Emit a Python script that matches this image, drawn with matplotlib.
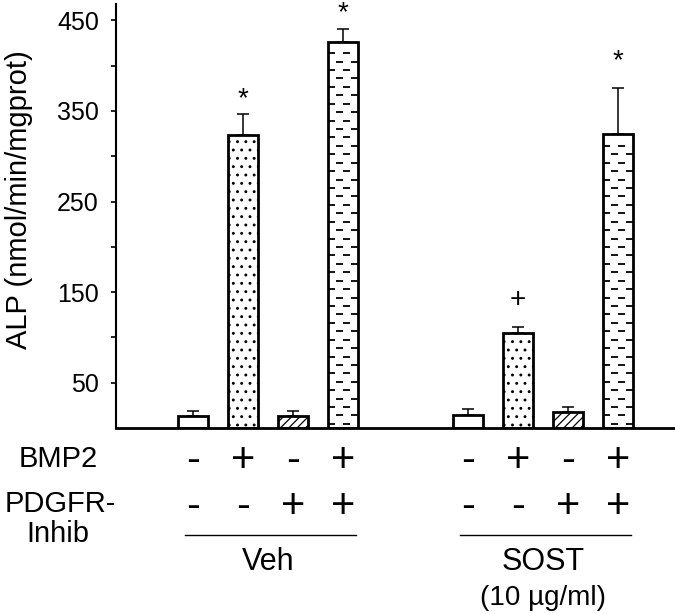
import numpy as np
import matplotlib
matplotlib.use("Agg")
import matplotlib.pyplot as plt
from matplotlib.transforms import blended_transform_factory

plt.rcParams['font.family'] = ['Liberation Sans', 'DejaVu Sans']
plt.rcParams['hatch.linewidth'] = 0.9

# --- data ---
groups = ['Veh', 'SOST']
group_sub = ['', '(10 µg/ml)']
bmp2 = ['-', '+', '-', '+']
pdgfr = ['-', '-', '+', '+']
alp_mean = [13, 323, 13, 426, 14.5, 105, 17.5, 324]
alp_err = [6, 24, 6, 14, 6.5, 7, 5.5, 51]
marks = ['', '*', '', '*', '', '+', '', '*']
mark_y = [0, 363, 0, 458, 0, 141, 0, 405]
patterns = ['plain', 'dots', 'diag', 'dash'] * 2

# --- layout ---
n_per = len(bmp2)
group_step = 5.5
x = np.concatenate([np.arange(n_per) + g * group_step for g in range(len(groups))])
width = 0.6

fig = plt.figure(figsize=(6.75, 6.14), dpi=100)
ax = fig.add_axes([116 / 675, (614 - 428) / 614, (675 - 116) / 675, (428 - 4) / 614])

hatch_map = {'plain': '', 'dots': '..', 'diag': '////', 'dash': ''}
bars = ax.bar(x, alp_mean, width=width, color='white', edgecolor='black',
              linewidth=2.0, zorder=2)
for b, p in zip(bars, patterns):
    b.set_hatch(hatch_map[p])

# brick-like dash fill for the combined treatment bars
for b, p in zip(bars, patterns):
    if p != 'dash':
        continue
    L = b.get_x()
    w = b.get_width()
    top = b.get_height()
    rows = np.arange(4.5, top - 4, 9.3)
    for r, yy in enumerate(rows[::-1]):
        off = (r % 2) * 0.27 * w
        for k in range(3):
            s = L + off + k * 0.5 * w
            e = min(s + 0.23 * w, L + w)
            if s < L + w - 0.02:
                ax.plot([s, e], [yy, yy], color='black', lw=1.3,
                        solid_capstyle='butt', zorder=3)

ax.errorbar(x, alp_mean, yerr=[np.zeros(len(alp_err)), alp_err], fmt='none',
            ecolor='black', elinewidth=1.1, capsize=4, capthick=1.1, zorder=4)

for xi, m, my in zip(x, marks, mark_y):
    if m:
        ax.text(xi, my, m, ha='center', va='center', fontsize=20)

ax.set_xlim(-1.54, 9.64)
ax.set_ylim(0, 468)
ax.set_xticks([])
ax.set_yticks([50, 150, 250, 350, 450])
ax.set_yticks([100, 200, 300, 400], minor=True)
ax.tick_params(axis='y', which='both', direction='out', length=3.3, width=1.2,
               labelsize=18, pad=9)
for s in ['top', 'right']:
    ax.spines[s].set_visible(False)
ax.spines['left'].set_linewidth(1.5)
ax.spines['bottom'].set_linewidth(2.0)

fig.text(19 / 675, 1 - 200 / 614, 'ALP (nmol/min/mgprot)', rotation=90,
         ha='center', va='center', fontsize=21)

# treatment table below the axis
tr = blended_transform_factory(ax.transData, fig.transFigure)
fig.text(58 / 675, 1 - 467 / 614, 'BMP2', ha='center', va='baseline', fontsize=21)
fig.text(60 / 675, 1 - 512 / 614, 'PDGFR-', ha='center', va='baseline', fontsize=21)
fig.text(58 / 675, 1 - 542 / 614, 'Inhib', ha='center', va='baseline', fontsize=21)

for g in range(len(groups)):
    gx = x[g * n_per:(g + 1) * n_per]
    for xi, s1, s2 in zip(gx, bmp2, pdgfr):
        ax.text(xi, 1 - 461 / 614, s1, transform=tr, ha='center', va='center', fontsize=30)
        ax.text(xi, 1 - 507 / 614, s2, transform=tr, ha='center', va='center', fontsize=30)
    ax.plot([gx[0] - 0.17, gx[-1] + 0.25], [1 - 535 / 614] * 2, transform=tr,
            color='black', lw=1.0, clip_on=False)
    cx = gx.mean()
    ax.text(cx, 1 - 570 / 614, groups[g], transform=tr, ha='center',
            va='baseline', fontsize=22)
    if group_sub[g]:
        ax.text(cx, 1 - 605 / 614, group_sub[g], transform=tr, ha='center',
                va='baseline', fontsize=20)

fig.savefig('out.png', dpi=100)
